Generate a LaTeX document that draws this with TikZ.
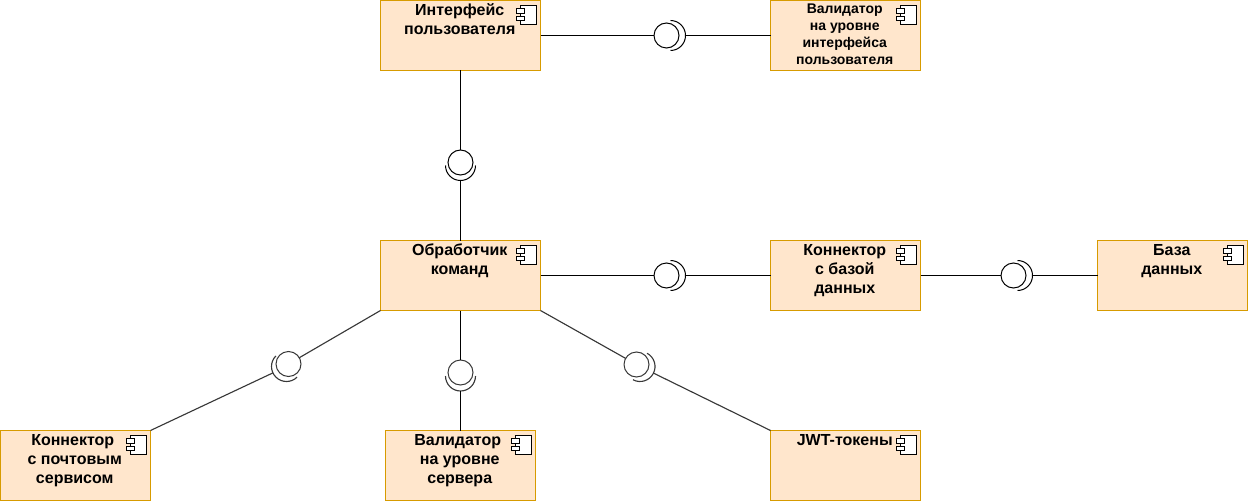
\documentclass[tikz,border=0pt]{standalone}
\usepackage{fontspec}
\setmainfont{Liberation Sans}
\definecolor{compfill}{HTML}{FFE6CC}
\definecolor{compline}{HTML}{D79B00}

% top aligned text of a box: big for most boxes, small for the validator
\newcommand{\bigname}[1]{\hbox{\kern-1.1pt\parbox[c][52.5pt][t]{112pt}{\centering\fontsize{12}{14.25}\bfseries\selectfont\rule{0pt}{11.25pt}#1\par}}}
\newcommand{\smallname}[1]{\hbox{\kern-1.1pt\parbox[c][52.5pt][t]{112pt}{\centering\fontsize{10.5}{12.75}\bfseries\selectfont\rule{0pt}{9.75pt}#1\par}}}
% half ring of a required interface
\newcommand{\sockarc}[3][wire]{\draw[#1] (#2.#3) arc[start angle=#3,delta angle=180,radius=11.25pt];}

\tikzset{
  wire/.style={draw=black,line width=0.75pt},
  greywire/.style={draw=black!78,line width=0.85pt},
  comp/.style={rectangle,draw=compline,fill=compfill,line width=0.75pt,inner sep=0pt,outer sep=0pt,
    minimum width=112.5pt,minimum height=52.5pt,
    path picture={
      \draw[black,fill=white,line width=0.6pt] ([xshift=-15pt,yshift=-3.75pt]path picture bounding box.north east)
        rectangle ([xshift=-3pt,yshift=-18pt]path picture bounding box.north east);
      \draw[black,fill=white,line width=0.6pt] ([xshift=-18pt,yshift=-6pt]path picture bounding box.north east)
        rectangle ([xshift=-12pt,yshift=-9.4pt]path picture bounding box.north east);
      \draw[black,fill=white,line width=0.6pt] ([xshift=-18pt,yshift=-12pt]path picture bounding box.north east)
        rectangle ([xshift=-12pt,yshift=-15pt]path picture bounding box.north east);
    }},
  widecomp/.style={comp,minimum width=120pt},
  ball/.style={circle,draw=black,line width=0.75pt,inner sep=0pt,outer sep=0pt,minimum size=18.75pt},
  greyball/.style={ball,draw=black!78},
  sock/.style={circle,inner sep=0pt,outer sep=0pt,minimum size=22.5pt}
}

\begin{document}
\begin{tikzpicture}[x=0.75pt,y=-0.75pt,node distance=180pt]
  \useasboundingbox (-0.5,-0.5) rectangle (1247.5,501.5);

% define the components
  \node[widecomp] (cmd) at (460,275) {\bigname{Обработчик\\команд}};
  \node[widecomp] (ui) [above of=cmd] {\bigname{Интерфейс\\пользователя}};
  \node[comp] (uival) at (845,35) {\smallname{Валидатор\\на уровне\\интерфейса\\пользователя}};
  \node[comp] (dbconn) at (845,275) {\bigname{Коннектор\\с базой\\данных}};
  \node[comp] (db) at (1172,275) {\bigname{База\\данных}};
  \node[comp] (mail) at (75,465) {\bigname{Коннектор\kern3pt\\с почтовым\\сервисом}};
  \node[comp] (srvval) at (460,465) {\bigname{Валидатор\kern3pt\\на уровне\\сервера}};
  \node[comp] (jwt) at (845,465) {\bigname{JWT-токены}};

% define the interfaces
  \node[ball] (ballui) at (666,35) {};
  \node[sock] (sockui) at (670,35) {};
  \node[ball] (ballcmd) at (460,162) {};
  \node[sock] (sockcmd) at (460,165) {};
  \node[ball] (balldbconn) at (666,275) {};
  \node[sock] (sockdbconn) at (670,275) {};
  \node[ball] (balldb) at (1013,275) {};
  \node[sock] (sockdb) at (1017,275) {};
  \node[greyball] (ballmail) at (288,363.5) {};
  \node[sock] (sockmail) at (286,366) {};
  \node[greyball] (ballsrv) at (460,372) {};
  \node[sock] (socksrv) at (460,375.5) {};
  \node[greyball] (balljwt) at (636,364) {};
  \node[sock] (sockjwt) at (639.5,366) {};

  \sockarc{sockui}{-90}
  \sockarc{sockcmd}{180}
  \sockarc{sockdbconn}{-90}
  \sockarc{sockdb}{-90}
  \sockarc[greywire]{sockmail}{135}
  \sockarc[greywire]{socksrv}{180}
  \sockarc[greywire]{sockjwt}{-118}

% define the links
  \path[wire] (ui) edge (ballui)
        (sockui) edge (uival)
        (ui) edge (ballcmd)
        (sockcmd) edge (cmd)
        (cmd) edge (balldbconn)
        (sockdbconn) edge (dbconn)
        (dbconn) edge (balldb)
        (sockdb) edge (db)
        (cmd) edge (ballsrv)
        (socksrv) edge (srvval);
  \path[greywire] (cmd.south west) edge (ballmail)
        (sockmail) edge (mail.north east)
        (cmd.south east) edge (balljwt)
        (sockjwt) edge (jwt.north west);

\end{tikzpicture}
\end{document}
